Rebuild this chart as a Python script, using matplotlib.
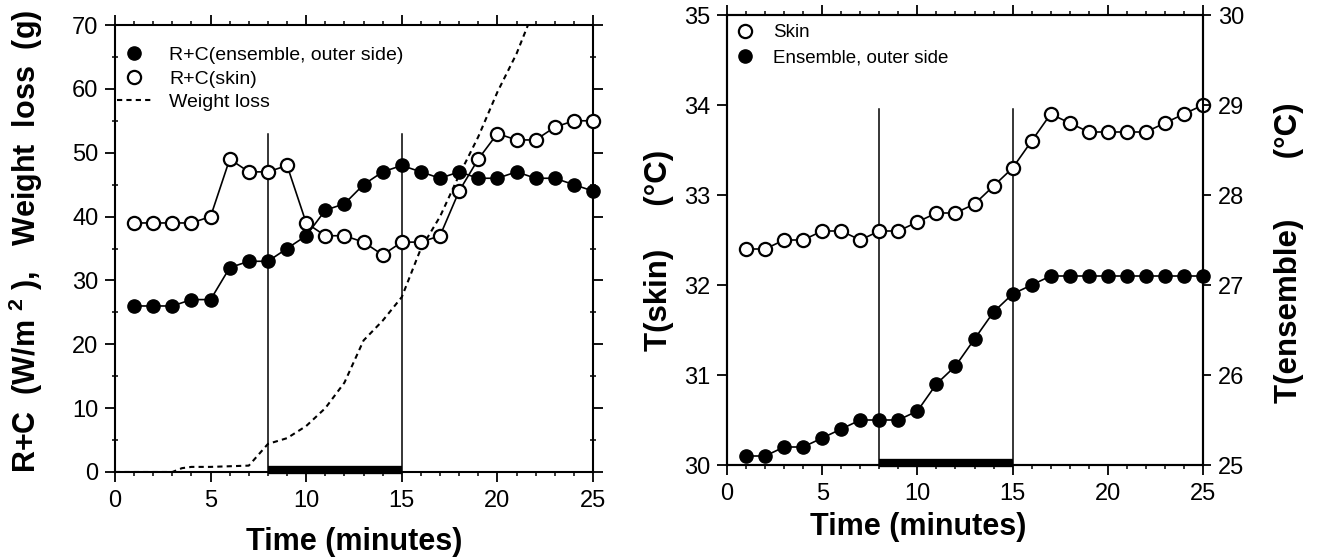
import numpy as np
import matplotlib
matplotlib.use("Agg")
import matplotlib.pyplot as plt
from matplotlib.lines import Line2D
from matplotlib.ticker import MultipleLocator

plt.rcParams['font.family'] = ['Liberation Sans', 'DejaVu Sans']
plt.rcParams['mathtext.fontset'] = 'custom'
plt.rcParams['mathtext.rm'] = 'Liberation Sans'
plt.rcParams['mathtext.bf'] = 'Liberation Sans:bold'

# --- datos ---
minutos = list(range(1, 26))

# panel izquierdo: R+C (W/m2)
rc_ensemble = [26, 26, 26, 27, 27, 32, 33, 33, 35, 37, 41, 42, 45, 47, 48,
               47, 46, 47, 46, 46, 47, 46, 46, 45, 44]
rc_skin = [39, 39, 39, 39, 40, 49, 47, 47, 48, 39, 37, 37, 36, 34, 36,
           36, 37, 44, 49, 53, 52, 52, 54, 55, 55]

# perdida de peso (g)
t_peso = [0, 3, 3.5, 4, 5, 6, 7, 8, 9, 10, 11, 12, 13, 14, 15, 16, 17, 18, 19, 20, 21, 22]
peso = [0, 0, 0.6, 0.8, 0.8, 0.9, 1.0, 4.4, 5.3, 7.2, 10, 14, 20.6, 23.7, 27.4,
        35, 40, 46.5, 52.5, 59.5, 65.5, 73]

# panel derecho: temperaturas (C)
t_skin = [32.4, 32.4, 32.5, 32.5, 32.6, 32.6, 32.5, 32.6, 32.6, 32.7, 32.8, 32.8,
          32.9, 33.1, 33.3, 33.6, 33.9, 33.8, 33.7, 33.7, 33.7, 33.7, 33.8, 33.9, 34.0]
t_ensemble = [25.1, 25.1, 25.2, 25.2, 25.3, 25.4, 25.5, 25.5, 25.5, 25.6, 25.9, 26.1,
              26.4, 26.7, 26.9, 27.0, 27.1, 27.1, 27.1, 27.1, 27.1, 27.1, 27.1, 27.1, 27.1]

# periodo marcado (minutos)
periodo = [8, 15]
tope_izq = 53
tope_der = 33.95

TICK_FS = 17
LABEL_FS = 22
MS = 9.5


def estilo_ejes(ax, xmaj, xmin_, ymaj, ymin_):
    ax.xaxis.set_major_locator(MultipleLocator(xmaj))
    ax.xaxis.set_minor_locator(MultipleLocator(xmin_))
    ax.yaxis.set_major_locator(MultipleLocator(ymaj))
    if ymin_:
        ax.yaxis.set_minor_locator(MultipleLocator(ymin_))
    for s in ax.spines.values():
        s.set_linewidth(1.5)
    ax.tick_params(axis='both', which='major', labelsize=TICK_FS, width=1.3)
    ax.tick_params(axis='x', which='major', direction='out', length=7, pad=6)
    ax.tick_params(axis='x', which='minor', direction='out', length=3, width=1.1)
    ax.tick_params(axis='y', which='major', direction='out', length=7, pad=5)
    ax.tick_params(axis='y', which='minor', direction='inout', length=5, width=1.1)


fig = plt.figure(figsize=(13.18, 5.59), dpi=100)

# ============== panel izquierdo ==============
ax1 = fig.add_axes([115 / 1318, 1 - 472 / 559, 478 / 1318, 447 / 559])
ax1.plot(minutos, rc_skin, '-', color='black', lw=1.2, marker='o', ms=MS,
         mfc='white', mec='black', mew=1.6, zorder=3, clip_on=False)
ax1.plot(minutos, rc_ensemble, '-', color='black', lw=1.2, marker='o', ms=MS,
         mfc='black', mec='black', zorder=4, clip_on=False)
ax1.plot(t_peso, peso, color='black', lw=1.5, dashes=(2.5, 2), zorder=2)
for xv in periodo:
    ax1.plot([xv, xv], [0, tope_izq], color='black', lw=1.1, zorder=1)
ax1.plot(periodo, [0.3, 0.3], color='black', lw=6, solid_capstyle='butt',
         clip_on=False, zorder=5)

ax1.set_xlim(0, 25)
ax1.set_ylim(0, 70)
estilo_ejes(ax1, 5, 1, 10, 5)
ax1.tick_params(top=True, right=True, which='both')
ax1.tick_params(axis='x', which='both', top=True)

ax1.set_xlabel('Time (minutes)', fontsize=LABEL_FS, fontweight='bold')
ax1.xaxis.set_label_coords(0.5, -0.122)
ax1.xaxis.label.set_va('top')
ax1.set_ylabel(r'R+C  (W/m $^{\mathbf{2}}$ ),   Weight  loss  (g)',
               fontsize=LABEL_FS, fontweight='bold')
ax1.yaxis.set_label_coords(-0.146, 0.517)

handles1 = [
    Line2D([], [], ls='none', marker='o', ms=MS, mfc='black', mec='black'),
    Line2D([], [], ls='none', marker='o', ms=MS, mfc='white', mec='black', mew=1.6),
    Line2D([], [], color='black', lw=1.5, dashes=(2.5, 2)),
]
ax1.legend(handles1, ['R+C(ensemble, outer side)', 'R+C(skin)', 'Weight loss'],
           loc='upper left', bbox_to_anchor=(0.004, 0.952), borderpad=0,
           borderaxespad=0, frameon=False, fontsize=14, handlelength=1.75,
           handletextpad=0.95, labelspacing=0.3)

# ============== panel derecho ==============
ax2 = fig.add_axes([727 / 1318, 1 - 465 / 559, 476 / 1318, 450 / 559])
ax3 = ax2.twinx()

ax2.plot(minutos, t_skin, '-', color='black', lw=1.2, marker='o', ms=MS,
         mfc='white', mec='black', mew=1.6, zorder=3, clip_on=False)
for xv in periodo:
    ax2.plot([xv, xv], [30, tope_der], color='black', lw=1.1, zorder=1)
ax2.plot(periodo, [30.02, 30.02], color='black', lw=6, solid_capstyle='butt',
         clip_on=False, zorder=5)
ax3.plot(minutos, t_ensemble, '-', color='black', lw=1.2, marker='o', ms=MS,
         mfc='black', mec='black', zorder=4, clip_on=False)

ax2.set_xlim(0, 25)
ax2.set_ylim(30, 35)
ax3.set_ylim(25, 30)
estilo_ejes(ax2, 5, 1, 1, None)
ax2.tick_params(axis='x', which='both', top=True)
ax3.yaxis.set_major_locator(MultipleLocator(1))
ax3.tick_params(axis='y', which='major', direction='out', length=6, pad=5,
                labelsize=TICK_FS, width=1.3)
for s in ax3.spines.values():
    s.set_linewidth(1.5)

ax2.set_xlabel('Time (minutes)', fontsize=LABEL_FS, fontweight='bold')
ax2.xaxis.set_label_coords(0.401, -0.105)
ax2.xaxis.label.set_va('top')
ax2.set_ylabel('T(skin)     (°C)', fontsize=22.5, fontweight='bold')
ax2.yaxis.set_label_coords(-0.111, 0.476)
ax3.set_ylabel('T(ensemble)       (°C)', fontsize=22.5, fontweight='bold')
ax3.yaxis.set_label_coords(1.149, 0.471)

handles2 = [
    Line2D([], [], ls='none', marker='o', ms=MS, mfc='white', mec='black', mew=1.6),
    Line2D([], [], ls='none', marker='o', ms=MS, mfc='black', mec='black'),
]
ax2.legend(handles2, ['Skin', 'Ensemble, outer side'],
           loc='upper left', bbox_to_anchor=(0.017, 0.98), borderpad=0,
           borderaxespad=0, frameon=False, fontsize=13.5, handlelength=1.07,
           handletextpad=0.96, labelspacing=0.45)

fig.savefig('out.png', dpi=100)
